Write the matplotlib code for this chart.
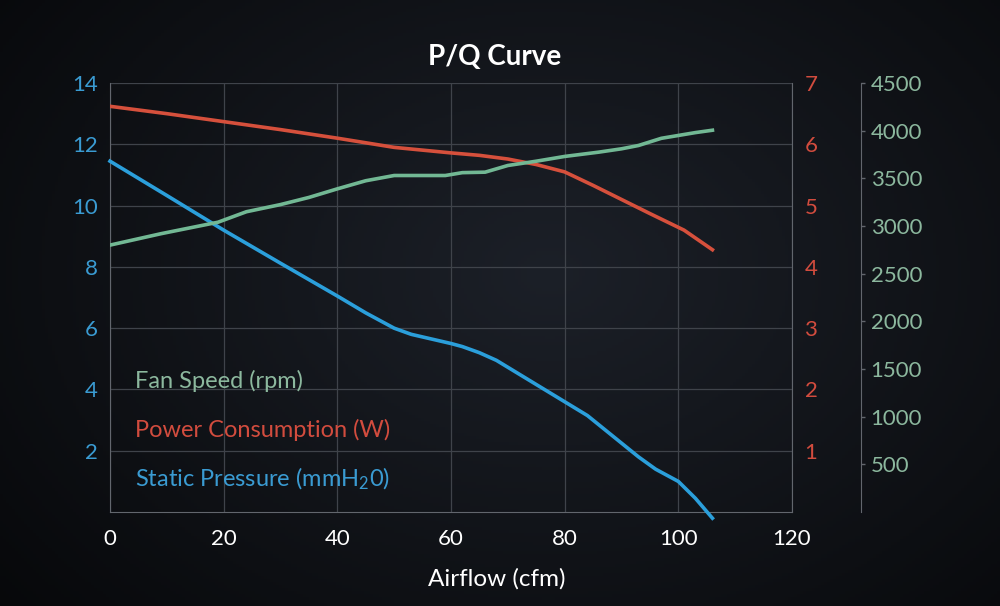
import numpy as np
import matplotlib
matplotlib.use("Agg")
from matplotlib import pyplot as plt

plt.rcParams['font.family'] = ['Lato', 'DejaVu Sans']
plt.rcParams['mathtext.fontset'] = 'custom'
plt.rcParams['mathtext.rm'] = 'Lato'
plt.rcParams['mathtext.it'] = 'Lato'

# data
pressure_x = [0, 10, 20, 30, 40, 45, 50, 53, 60, 62, 65, 68, 72, 76, 80, 84, 88, 93, 96, 100, 103, 106]
pressure = [11.45, 10.33, 9.2, 8.12, 7.05, 6.5, 6.0, 5.8, 5.5, 5.4, 5.2, 4.95, 4.5, 4.05, 3.6, 3.15, 2.55, 1.8, 1.4, 1.0, 0.45, -0.2]

power_x = [0, 10, 20, 30, 40, 50, 60, 65, 70, 75, 80, 85, 90, 95, 101, 106]
power = [6.62, 6.5, 6.37, 6.24, 6.1, 5.95, 5.86, 5.82, 5.76, 5.67, 5.55, 5.33, 5.1, 4.87, 4.6, 4.28]

fan_x = [0, 9, 19, 24, 30, 35, 40, 45, 50, 55, 59, 62, 66, 70, 75, 80, 86, 90, 93, 97, 100, 103, 106]
fan = [2800, 2920, 3040, 3150, 3225, 3300, 3390, 3475, 3530, 3530, 3530, 3560, 3565, 3635, 3680, 3730, 3775, 3810, 3845, 3920, 3950, 3980, 4005]

x_ticks = [0, 20, 40, 60, 80, 100, 120]
p_ticks = [2, 4, 6, 8, 10, 12, 14]
w_ticks = [1, 2, 3, 4, 5, 6, 7]
rpm_ticks = [500, 1000, 1500, 2000, 2500, 3000, 3500, 4000, 4500]

blue = "#2b9fdb"
red = "#d6503c"
green = "#72b894"
blue_txt = "#3a9bd2"
red_txt = "#d24c3e"
green_txt = "#8cb89e"
grid_c = "#3f434a"
spine_c = "#62666d"

fig = plt.figure(figsize=(10, 6.06), dpi=100)
fig.patch.set_facecolor("#0b0d11")

# dark radial background
bg = fig.add_axes([0, 0, 1, 1], zorder=-10)
yy, xx = np.mgrid[0:1:200j, 0:1:330j]
r = np.sqrt(((xx - 0.55) / 0.75) ** 2 + ((yy - 0.55) / 0.9) ** 2)
shade = np.clip(1 - r, 0, 1)
c0 = np.array([6, 7, 9]) / 255
c1 = np.array([28, 32, 40]) / 255
img = c0 + (c1 - c0) * shade[..., None]
bg.imshow(img, aspect="auto", extent=[0, 1, 0, 1], origin="lower")
bg.axis("off")

ax = fig.add_axes([0.110, 0.155, 0.682, 0.708])
ax.patch.set_alpha(0)
ax2 = ax.twinx()
ax3 = ax.twinx()

ax.plot(pressure_x, pressure, color=blue, lw=2.6, clip_on=False, zorder=5)
ax2.plot(power_x, power, color=red, lw=2.6, zorder=5)
ax3.plot(fan_x, fan, color=green, lw=2.6, zorder=5)

ax.set_xlim(0, 120)
ax.set_ylim(0, 14)
ax2.set_ylim(0, 7)
ax3.set_ylim(0, 4500)

ax.set_xticks(x_ticks)
ax.set_yticks(p_ticks)
ax2.set_yticks(w_ticks)
ax3.set_yticks(rpm_ticks)

ax.grid(True, color=grid_c, lw=0.9)
ax.set_axisbelow(True)

for a in (ax, ax2, ax3):
    for s in a.spines.values():
        s.set_visible(False)
ax.spines['left'].set_visible(True)
ax.spines['bottom'].set_visible(True)
ax.spines['left'].set_color(spine_c)
ax.spines['bottom'].set_color(spine_c)
ax2.spines['right'].set_visible(True)
ax2.spines['right'].set_color(spine_c)
ax3.spines['right'].set_visible(True)
ax3.spines['right'].set_color(spine_c)
ax3.spines['right'].set_position(('axes', 1.101))

ax.tick_params(axis='x', length=0, pad=12, labelsize=16, labelcolor="white")
ax.tick_params(axis='y', length=0, pad=9, labelsize=16, labelcolor=blue_txt)
ax2.tick_params(axis='y', length=0, pad=9, labelsize=16, labelcolor=red_txt)
ax3.tick_params(axis='y', length=3, width=1, color=spine_c, pad=4, labelsize=16, labelcolor=green_txt)

ax.set_xlabel("Airflow (cfm)", color="white", fontsize=17.5)
ax.xaxis.set_label_coords(0.567, -0.130)
fig.text(0.495, 0.906, "P/Q Curve", color="white", fontsize=20, fontweight="bold",
         ha="center", va="center")

ax.text(0.037, 0.305, "Fan Speed (rpm)", color=green_txt, fontsize=17,
        transform=ax.transAxes, va="center")
ax.text(0.037, 0.191, "Power Consumption (W)", color=red_txt, fontsize=17,
        transform=ax.transAxes, va="center")
ax.text(0.037, 0.077, r"Static Pressure (mmH$_2$0)", color=blue_txt, fontsize=17,
        transform=ax.transAxes, va="center")

fig.savefig("out.png", dpi=100, facecolor=fig.get_facecolor())
